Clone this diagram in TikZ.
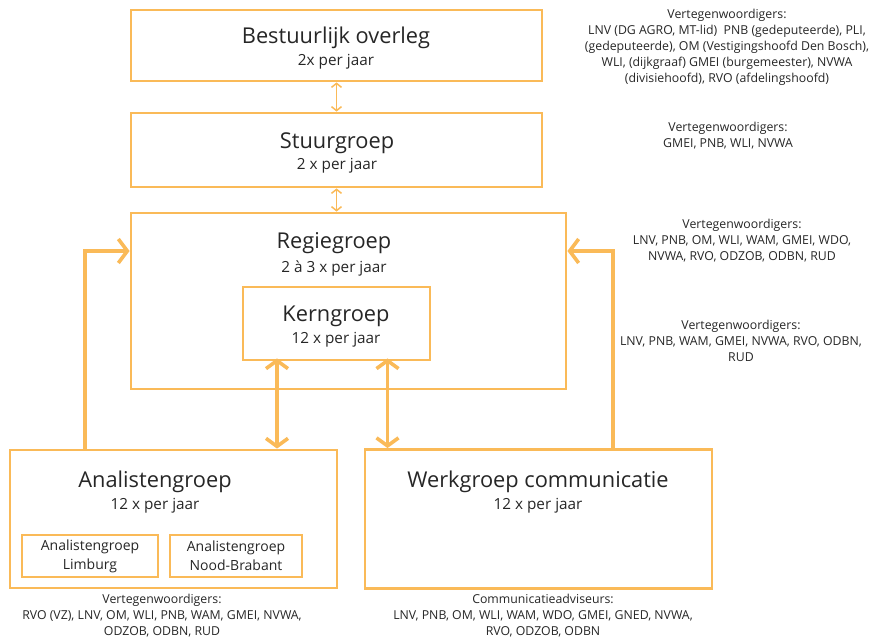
\documentclass[tikz,border=0pt]{standalone}
\usepackage{fontspec}
\setmainfont{Open Sans}
\usetikzlibrary{arrows.meta}
\definecolor{oranje}{RGB}{250,186,88}
\definecolor{tekst}{RGB}{38,38,38}
\tikzset{
  groep/.style={draw=oranje, line width=2.8pt, inner sep=0pt},
  subgroep/.style={draw=oranje, line width=2pt, inner sep=0pt, text=tekst, align=center, font=\fontsize{14}{19}\selectfont},
  titel/.style={text=tekst, inner sep=0pt, font=\fontsize{21.8}{26}\selectfont},
  freq/.style={text=tekst, inner sep=0pt, font=\fontsize{15.3}{18}\selectfont},
  noot/.style={text=tekst, inner sep=0pt, align=center, font=\fontsize{12.3}{16}\selectfont},
  klein/.style={draw=oranje, line width=1.5pt, line cap=round, {Straight Barb[length=4pt,width=10pt]}-{Straight Barb[length=4pt,width=10pt]}},
  groot/.style={draw=oranje, line width=3.6pt, line cap=round, {Straight Barb[length=8pt,width=22pt]}-{Straight Barb[length=8pt,width=22pt]}},
  terug/.style={draw=oranje, line width=3.6pt, line cap=round, -{Straight Barb[length=9pt,width=24pt]}}
}
\begin{document}
\begin{tikzpicture}[x=1pt, y=-1pt]
\useasboundingbox (0,0) rectangle (875,639);
% boxes
\node (bo) at (336.5, 45.5) [groep, minimum width=411pt, minimum height=71pt] {};
\node (sg) at (336.5, 150) [groep, minimum width=411pt, minimum height=74pt] {};
\node (rg) at (348.5, 301) [groep, minimum width=435pt, minimum height=176pt] {};
\node (kg) at (336.5, 323.5) [groep, minimum width=187pt, minimum height=73pt] {};
\node (ag) at (173.5, 519) [groep, minimum width=327pt, minimum height=138pt] {};
\node (wc) at (538.5, 519) [groep, minimum width=347pt, minimum height=139pt] {};
\node (al) at (90, 556) [subgroep, minimum width=136pt, minimum height=42pt] {Analistengroep\\Limburg};
\node (an) at (236, 556) [subgroep, minimum width=132pt, minimum height=42pt] {Analistengroep\\Nood-Brabant};
% titles
\node (bo-t) at (336, 38) [titel] {Bestuurlijk overleg};
\node (bo-f) at (336, 62) [freq] {2x per jaar};
\node (sg-t) at (337, 143) [titel] {Stuurgroep};
\node (sg-f) at (337, 166) [freq] {2 x per jaar};
\node (rg-t) at (334, 243) [titel] {Regiegroep};
\node (rg-f) at (334, 268) [freq] {2 à 3 x per jaar};
\node (kg-t) at (336, 316) [titel] {Kerngroep};
\node (kg-f) at (336, 340) [freq] {12 x per jaar};
\node (ag-t) at (155, 482) [titel] {Analistengroep};
\node (ag-f) at (155, 506) [freq] {12 x per jaar};
\node (wc-t) at (538, 482) [titel] {Werkgroep communicatie};
\node (wc-f) at (538, 506) [freq] {12 x per jaar};
% representatives
\node (bo-n) at (727, 47) [noot] {Vertegenwoordigers:\\LNV (DG AGRO, MT-lid)\ \ PNB (gedeputeerde), PLI,\\(gedeputeerde), OM (Vestigingshoofd Den Bosch),\\WLI, (dijkgraaf) GMEI (burgemeester), NVWA\\(divisiehoofd), RVO (afdelingshoofd)};
\node (sg-n) at (728, 136) [noot] {Vertegenwoordigers:\\GMEI, PNB, WLI, NVWA};
\node (rg-n) at (742, 241) [noot] {Vertegenwoordigers:\\LNV, PNB, OM, WLI, WAM, GMEI, WDO,\\NVWA, RVO, ODZOB, ODBN, RUD};
\node (kg-n) at (741, 341) [noot] {Vertegenwoordigers:\\LNV, PNB, WAM, GMEI, NVWA, RVO, ODBN,\\RUD};
\node (ag-n) at (162, 616) [noot] {Vertegenwoordigers:\\RVO (VZ), LNV, OM, WLI, PNB, WAM, GMEI, NVWA,\\ODZOB, ODBN, RUD};
\node (wc-n) at (543, 616) [noot] {Communicatieadviseurs:\\LNV, PNB, OM, WLI, WAM, WDO, GMEI, GNED, NVWA,\\RVO, ODZOB, ODBN};
% connectors
\coordinate (lft) at (85, 251);
\coordinate (rgt) at (613, 251);
\draw [klein] (bo.south) -- (sg.north);
\draw [klein] (sg.south) -- (sg.south |- rg.north);
\draw [groot] ([xshift=-59.5pt, yshift=3pt]kg.south) -- ([xshift=-59.5pt]kg.south |- ag.north);
\draw [groot] ([xshift=51pt, yshift=3pt]kg.south) -- ([xshift=51pt]kg.south |- wc.north);
\draw [terug] (ag.north -| lft) |- (rg.west |- lft);
\draw [terug] (wc.north -| rgt) |- (rg.east |- rgt);
\end{tikzpicture}
\end{document}
